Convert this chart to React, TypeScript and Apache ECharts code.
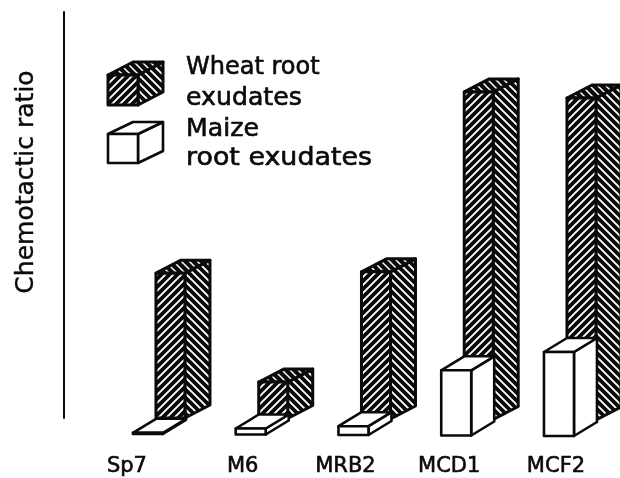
import React, { useEffect, useRef } from "react";
import * as echarts from "echarts";

const categories = ["Sp7", "M6", "MRB2", "MCD1", "MCF2"];
const wheatRatio = [3.62, 0.91, 3.68, 8.19, 8.05];
const maizeRatio = [0.03, 0.15, 0.22, 1.63, 2.1];
const labelPadRight = [42, 16, 16, 14, 6];
const FONT = "DejaVu Sans";
const INK = "#0a0a0a";

function hatch(rising: boolean, white: number) {
  const n = 8;
  const c = document.createElement("canvas");
  c.width = n;
  c.height = n;
  const g = c.getContext("2d")!;
  g.fillStyle = INK;
  g.fillRect(0, 0, n, n);
  g.strokeStyle = "#fff";
  g.lineWidth = white;
  g.beginPath();
  if (rising) {
    g.moveTo(-2, 2); g.lineTo(2, -2);
    g.moveTo(-2, n + 2); g.lineTo(n + 2, -2);
    g.moveTo(n - 2, n + 2); g.lineTo(n + 2, n - 2);
  } else {
    g.moveTo(-2, n - 2); g.lineTo(2, n + 2);
    g.moveTo(-2, -2); g.lineTo(n + 2, n + 2);
    g.moveTo(n - 2, -2); g.lineTo(n + 2, 2);
  }
  g.stroke();
  return { image: c, repeat: "repeat" };
}

type Fills = { front: any; side: any; top: any };

function cubeFaces(x: number, w: number, top: number, bottom: number, dx: number, dy: number, f: Fills, lw: number) {
  const style = (fill: any) => ({ fill, stroke: INK, lineWidth: lw, lineJoin: "round" });
  return [
    { type: "polygon", shape: { points: [[x + w, top], [x + w + dx, top - dy], [x + w + dx, bottom - dy], [x + w, bottom]] }, style: style(f.side) },
    { type: "polygon", shape: { points: [[x, top], [x + dx, top - dy], [x + w + dx, top - dy], [x + w, top]] }, style: style(f.top) },
    { type: "polygon", shape: { points: [[x, top], [x + w, top], [x + w, bottom], [x, bottom]] }, style: style(f.front) },
  ];
}

export default function App() {
  const ref = useRef<HTMLDivElement>(null);
  useEffect(() => {
    const chart = echarts.init(ref.current!, undefined, { renderer: "svg" });
    const wheatFill: Fills = { front: hatch(true, 1.9), side: hatch(false, 1.9), top: hatch(false, 1.5) };
    const maizeFill: Fills = { front: "#fff", side: "#fff", top: "#fff" };
    const TILT = 0.5;

    const bar3d = (fills: Fills, xShift: number, w: number, dx: number, dy: number, baseDrop: number, lw: number) =>
      (_: any, api: any) => {
        const i = api.value(0);
        const [cx, y0] = api.coord([i, 0]);
        const [, y1] = api.coord([i, api.value(1)]);
        const bottom = y0 + baseDrop + TILT * i;
        const top = y1 + baseDrop + TILT * i;
        return {
          type: "group",
          children: cubeFaces(cx + xShift, w, top, bottom, dx, dy, fills, lw),
        };
      };

    const legendText = (text: string, y: number, scaleX: number) => ({
      type: "text",
      x: 186,
      y,
      scaleX,
      style: {
        text,
        fontFamily: FONT,
        fontSize: 24,
        fill: INK,
        stroke: INK,
        lineWidth: 0.6,
        verticalAlign: "middle",
      },
    });

    chart.setOption({
      animation: false,
      backgroundColor: "#fff",
      grid: { left: 96.6, top: 12, width: 513.75, height: 406 },
      xAxis: {
        type: "category",
        data: categories,
        axisLine: { show: false },
        axisTick: { show: false },
        axisLabel: {
          margin: 36,
          interval: 0,
          formatter: (v: string, i: number) => `{l${i}|${v}}`,
          rich: Object.fromEntries(
            labelPadRight.map((p, i) => [
              `l${i}`,
              {
                fontFamily: FONT,
                fontSize: 21,
                color: INK,
                textBorderColor: INK,
                textBorderWidth: 0.6,
                padding: [0, p, 0, 0],
              },
            ])
          ),
        },
      },
      yAxis: {
        type: "value",
        min: 0,
        max: 10.15,
        offset: 32.6,
        name: "Chemotactic ratio",
        nameLocation: "middle",
        nameGap: 27,
        nameTextStyle: {
          fontFamily: FONT,
          fontSize: 25,
          color: INK,
          textBorderColor: INK,
          textBorderWidth: 0.4,
          padding: [0, 0, 0, 66],
        },
        axisLine: { show: true, lineStyle: { color: INK, width: 2 } },
        axisTick: { show: false },
        axisLabel: { show: false },
        splitLine: { show: false },
      },
      series: [
        {
          type: "custom",
          name: "Wheat root exudates",
          data: wheatRatio.map((v, i) => [i, v]),
          encode: { x: 0, y: 1 },
          renderItem: bar3d(wheatFill, 8, 29, 25, 13, 0, 3),
        },
        {
          type: "custom",
          name: "Maize root exudates",
          data: maizeRatio.map((v, i) => [i, v]),
          encode: { x: 0, y: 1 },
          renderItem: bar3d(maizeFill, -15, 30, 23, 14, 16, 2.6),
        },
      ],
      graphic: [
        ...cubeFaces(108, 30, 75, 105, 25, 13, wheatFill, 3),
        ...cubeFaces(108, 30, 134, 163, 25, 12, maizeFill, 2.6),
        legendText("Wheat root", 66, 1.0),
        legendText("exudates", 97, 1.05),
        legendText("Maize", 128, 1.05),
        legendText("root exudates", 157, 1.12),
      ],
    });
    return () => chart.dispose();
  }, []);
  return <div ref={ref} style={{ position: "fixed", left: 0, top: 0, width: 620, height: 478, filter: "blur(0.4px)" }} />;
}
